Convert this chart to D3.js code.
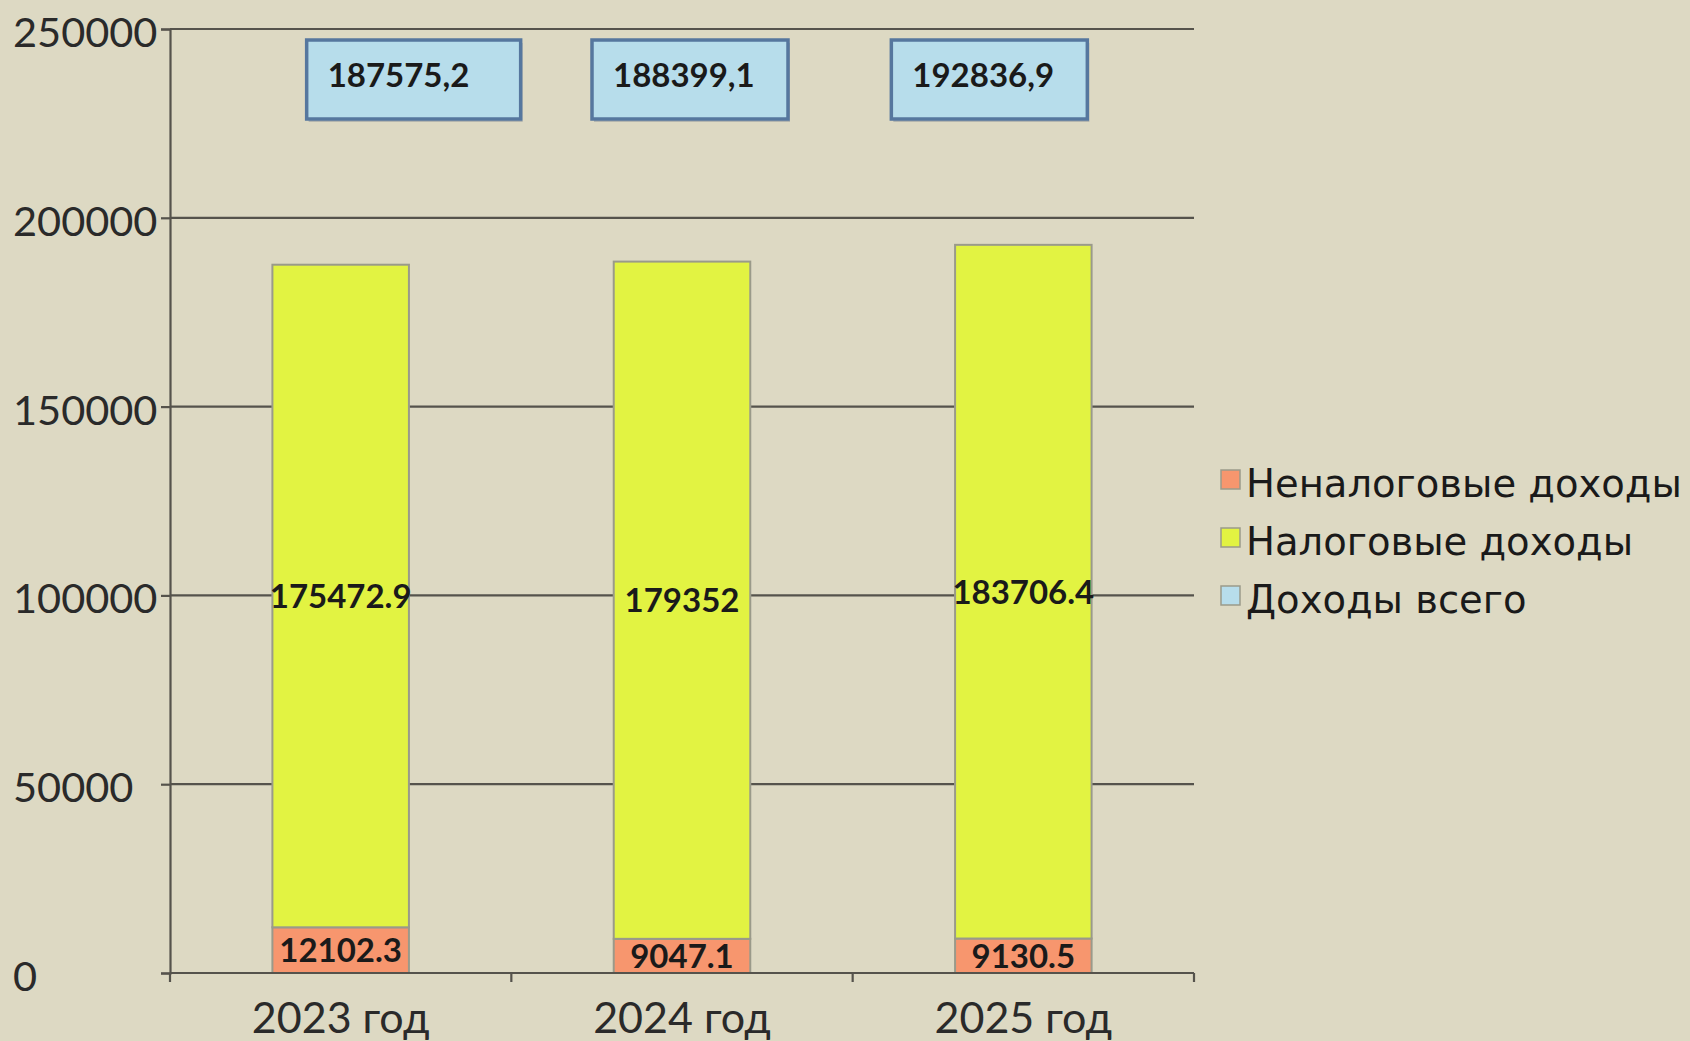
<!DOCTYPE html>
<html>
<head>
<meta charset="utf-8">
<script src="https://cdn.jsdelivr.net/npm/d3@7"></script>
<style>
  html, body { margin: 0; padding: 0; background: #ddd9c3; }
  svg { display: block; }
</style>
</head>
<body>
<script>
const years = ['2023 год', '2024 год', '2025 год'];
const nonTax = [12102.3, 9047.1, 9130.5];
const tax = [175472.9, 179352, 183706.4];
const total = ['187575,2', '188399,1', '192836,9'];
const seriesNames = ['Неналоговые доходы', 'Налоговые доходы', 'Доходы всего'];
const yTicks = [0, 50000, 100000, 150000, 200000, 250000];

const colors = ['#f7966e', '#e2f342', '#b7ddeb'];

// the total labels were dragged around by hand in the original
const boxLeftDx = [-34, -90, -132];
const boxW = [214, 196, 196];

const svgWidth = 1690;
const svgHeight = 1041;
const margin = { top: 29, left: 170, right: 496, bottom: 68 };

const svg = d3.select('body').append('svg')
  .attr('width', svgWidth)
  .attr('height', svgHeight);

svg.append('rect')
  .attr('width', svgWidth)
  .attr('height', svgHeight)
  .attr('fill', '#ddd9c3');

const x = d3.scaleBand()
  .domain(years)
  .range([margin.left, svgWidth - margin.right])
  .paddingInner(0.6)
  .paddingOuter(0.3);

const y = d3.scaleLinear()
  .domain([0, 250000])
  .range([svgHeight - margin.bottom, margin.top]);

const x0 = margin.left, x1 = svgWidth - margin.right;
const step = (x1 - x0) / years.length;

// gridlines
svg.append('g')
  .selectAll('line')
  .data(yTicks.slice(1))
  .enter()
  .append('line')
  .attr('x1', x0)
  .attr('x2', x1)
  .attr('y1', d => y(d))
  .attr('y2', d => y(d))
  .attr('stroke', '#55534c')
  .attr('stroke-width', 2.2);

// y axis
const yAxis = svg.append('g')
  .attr('transform', `translate(${x0},0)`)
  .call(d3.axisLeft(y).tickValues(yTicks).tickSize(9).tickFormat(''));
yAxis.selectAll('path, line').attr('stroke', '#55534c').attr('stroke-width', 2.2);

svg.append('g')
  .selectAll('text')
  .data(yTicks)
  .enter()
  .append('text')
  .attr('x', 13)
  .attr('y', d => y(d) + 18)
  .attr('font-family', 'Lato, sans-serif')
  .attr('font-size', 41.5)
  .attr('fill', '#2a2a2a')
  .text(d => d);

// stacked bars
const stackRows = years.map((yr, i) => ({ year: yr, nonTax: nonTax[i], tax: tax[i] }));
const stacked = d3.stack().keys(['nonTax', 'tax'])(stackRows);

const layers = svg.append('g')
  .selectAll('g')
  .data(stacked)
  .enter()
  .append('g')
  .attr('fill', (d, i) => colors[i]);

layers.selectAll('rect')
  .data(d => d)
  .enter()
  .append('rect')
  .attr('x', d => x(d.data.year))
  .attr('y', d => y(d[1]))
  .attr('width', x.bandwidth())
  .attr('height', d => y(d[0]) - y(d[1]))
  .attr('stroke', '#9a9a8a')
  .attr('stroke-width', 2);

layers.selectAll('text')
  .data(d => d)
  .enter()
  .append('text')
  .attr('x', d => x(d.data.year) + x.bandwidth() / 2)
  .attr('y', d => y((d[0] + d[1]) / 2) + 12)
  .attr('text-anchor', 'middle')
  .attr('font-family', 'Lato, sans-serif')
  .attr('font-weight', 'bold')
  .attr('font-size', 33)
  .attr('fill', '#1a1a1a')
  .text(d => d[1] - d[0] > 0 ? +(d[1] - d[0]).toFixed(1) : '');

// x axis
const xAxisY = y(0);
svg.append('line')
  .attr('x1', x0).attr('x2', x1)
  .attr('y1', xAxisY).attr('y2', xAxisY)
  .attr('stroke', '#55534c').attr('stroke-width', 2.2);

svg.append('g')
  .selectAll('line')
  .data(d3.range(years.length + 1))
  .enter()
  .append('line')
  .attr('x1', i => x0 + i * step)
  .attr('x2', i => x0 + i * step)
  .attr('y1', xAxisY)
  .attr('y2', xAxisY + 9)
  .attr('stroke', '#55534c')
  .attr('stroke-width', 2.2);

svg.append('g')
  .selectAll('text')
  .data(years)
  .enter()
  .append('text')
  .attr('x', d => x(d) + x.bandwidth() / 2)
  .attr('y', xAxisY + 60)
  .attr('text-anchor', 'middle')
  .attr('font-family', 'Lato, sans-serif')
  .attr('font-size', 43)
  .attr('fill', '#2a2a2a')
  .text(d => d);

// total labels in boxes
const boxTop = y(250000) + 11;
const boxes = svg.append('g')
  .selectAll('g')
  .data(years)
  .enter()
  .append('g')
  .attr('transform', (d, i) => `translate(${x(d) + x.bandwidth() / 2 + boxLeftDx[i]},${boxTop})`);

boxes.append('rect')
  .attr('x', 2).attr('y', 3)
  .attr('width', (d, i) => boxW[i])
  .attr('height', 79)
  .attr('fill', '#8c949c')
  .attr('opacity', 0.5);

boxes.append('rect')
  .attr('width', (d, i) => boxW[i])
  .attr('height', 79)
  .attr('fill', colors[2])
  .attr('stroke', '#56779e')
  .attr('stroke-width', 3.5);

boxes.append('text')
  .attr('x', 21)
  .attr('y', 47)
  .attr('font-family', 'Lato, sans-serif')
  .attr('font-weight', 'bold')
  .attr('font-size', 33)
  .attr('fill', '#1a1a1a')
  .text((d, i) => total[i]);

// legend
const legend = svg.append('g')
  .selectAll('g')
  .data(seriesNames)
  .enter()
  .append('g')
  .attr('transform', (d, i) => `translate(1221,${497 + i * 58})`);

legend.append('rect')
  .attr('x', 0).attr('y', -27)
  .attr('width', 19).attr('height', 19)
  .attr('fill', (d, i) => colors[i])
  .attr('stroke', '#9a9a8a')
  .attr('stroke-width', 1.5);

legend.append('text')
  .attr('x', 25)
  .attr('y', 0)
  .attr('font-family', '"DejaVu Sans", sans-serif')
  .attr('font-size', 38.5)
  .attr('fill', '#1a1a1a')
  .text(d => d);
</script>
</body>
</html>
